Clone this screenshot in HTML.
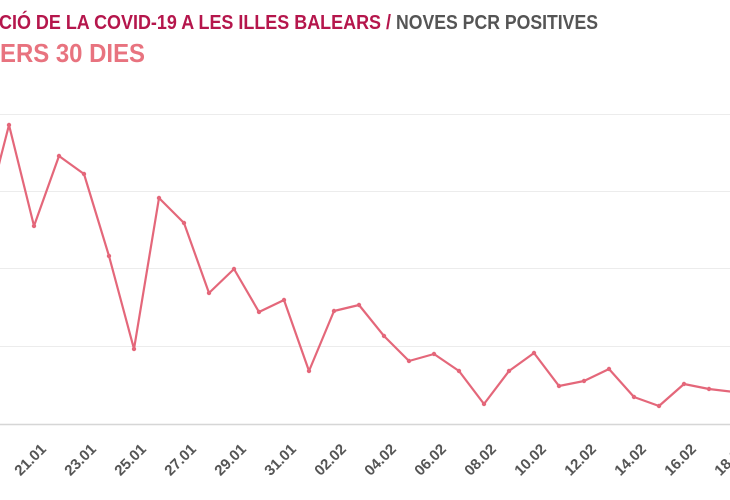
<!DOCTYPE html>
<html><head><meta charset="utf-8"><style>
body{margin:0;width:730px;height:500px;background:#fff;overflow:hidden}
svg{display:block}
.t{font-family:"Liberation Sans",sans-serif;font-weight:bold}
</style></head><body>
<svg width="730" height="500" viewBox="0 0 730 500">
<text class="t" x="-1" y="29" font-size="20" fill="#b5164c" textLength="392" lengthAdjust="spacingAndGlyphs">CIÓ DE LA COVID-19 A LES ILLES BALEARS /</text>
<text class="t" x="396" y="29" font-size="20" fill="#555" textLength="202" lengthAdjust="spacingAndGlyphs">NOVES PCR POSITIVES</text>
<text class="t" x="0" y="62" font-size="26" fill="#e8737f" textLength="145" lengthAdjust="spacingAndGlyphs">ERS 30 DIES</text>
<g stroke="#ececec" stroke-width="1">
<line x1="0" y1="114.5" x2="730" y2="114.5"/>
<line x1="0" y1="191.5" x2="730" y2="191.5"/>
<line x1="0" y1="268.5" x2="730" y2="268.5"/>
<line x1="0" y1="346.5" x2="730" y2="346.5"/>
</g>
<line x1="0" y1="424.5" x2="730" y2="424.5" stroke="#d6d6d6" stroke-width="1.5"/>
<polyline fill="none" stroke="#e4677a" stroke-width="2.2" stroke-linejoin="round" points="-16,230 0,160 9,125 34,226 59,156 84,174 109,256 134,349 159,198 184,223 209,293 234,269 259,312 284,300 309,371 334,311 359,305 384,336 409,361 434,354 459,371 484,404 509,371 534,353 559,386 584,381 609,369 634,397 659,406 684,384 709,389 734,392"/>
<g fill="#e4677a">
<circle cx="9" cy="125" r="2.2"/><circle cx="34" cy="226" r="2.2"/><circle cx="59" cy="156" r="2.2"/><circle cx="84" cy="174" r="2.2"/><circle cx="109" cy="256" r="2.2"/><circle cx="134" cy="349" r="2.2"/><circle cx="159" cy="198" r="2.2"/><circle cx="184" cy="223" r="2.2"/><circle cx="209" cy="293" r="2.2"/><circle cx="234" cy="269" r="2.2"/><circle cx="259" cy="312" r="2.2"/><circle cx="284" cy="300" r="2.2"/><circle cx="309" cy="371" r="2.2"/><circle cx="334" cy="311" r="2.2"/><circle cx="359" cy="305" r="2.2"/><circle cx="384" cy="336" r="2.2"/><circle cx="409" cy="361" r="2.2"/><circle cx="434" cy="354" r="2.2"/><circle cx="459" cy="371" r="2.2"/><circle cx="484" cy="404" r="2.2"/><circle cx="509" cy="371" r="2.2"/><circle cx="534" cy="353" r="2.2"/><circle cx="559" cy="386" r="2.2"/><circle cx="584" cy="381" r="2.2"/><circle cx="609" cy="369" r="2.2"/><circle cx="634" cy="397" r="2.2"/><circle cx="659" cy="406" r="2.2"/><circle cx="684" cy="384" r="2.2"/><circle cx="709" cy="389" r="2.2"/>
</g>
<g class="t" font-size="15" fill="#555" text-anchor="end">
<text transform="translate(47,450) rotate(-45)">21.01</text>
<text transform="translate(97,450) rotate(-45)">23.01</text>
<text transform="translate(147,450) rotate(-45)">25.01</text>
<text transform="translate(197,450) rotate(-45)">27.01</text>
<text transform="translate(247,450) rotate(-45)">29.01</text>
<text transform="translate(297,450) rotate(-45)">31.01</text>
<text transform="translate(347,450) rotate(-45)">02.02</text>
<text transform="translate(397,450) rotate(-45)">04.02</text>
<text transform="translate(447,450) rotate(-45)">06.02</text>
<text transform="translate(497,450) rotate(-45)">08.02</text>
<text transform="translate(547,450) rotate(-45)">10.02</text>
<text transform="translate(597,450) rotate(-45)">12.02</text>
<text transform="translate(647,450) rotate(-45)">14.02</text>
<text transform="translate(697,450) rotate(-45)">16.02</text>
<text transform="translate(747,450) rotate(-45)">18.02</text>
</g>
</svg>
</body></html>
